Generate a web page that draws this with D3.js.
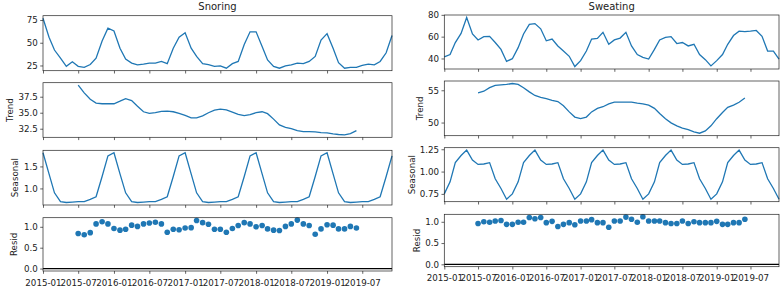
<!DOCTYPE html>
<html>
<head>
<meta charset="utf-8">
<script src="https://cdn.jsdelivr.net/npm/d3@7"></script>
<style>
  body { margin: 0; background: #fff; }
  svg { display: block; font-family: "DejaVu Sans", sans-serif; }
  .tick text { font-family: "DejaVu Sans", sans-serif; font-size: 8.7px; fill: #222; }
  .tick line { stroke: #222; stroke-width: 0.7; }
</style>
</head>
<body>
<div id="chart"></div>
<script>
/* two seasonal decompositions side by side (observed / trend / seasonal / resid) */

const width = 784,
    height = 291;

// monthly index, 2015-01 .. 2019-12
const months = d3.timeMonth.range(new Date(2015, 0, 1), new Date(2020, 0, 1));

const xTickLabels = ["2015-01", "2015-07", "2016-01", "2016-07", "2017-01",
    "2017-07", "2018-01", "2018-07", "2019-01", "2019-07"];

// --- snoring ---
const snoringObserved = [77, 56, 42, 33, 24, 29, 24, 23, 26, 33,
    52, 66, 63, 44, 32, 27.6, 25.7, 26.5, 27.6, 27.6,
    29.4, 27, 44, 56, 61, 44, 35, 27, 26, 24,
    24.6, 22, 27, 29.4, 48, 62, 62, 46, 31, 24,
    22, 24.6, 25.7, 27.6, 27, 29.4, 35, 53, 60, 44,
    28, 22, 23, 23, 25, 26.5, 25.7, 29.4, 39, 58];

const snoringTrend = [null, null, null, null, null, null,
    39.3, 38.1, 37.1, 36.5, 36.4, 36.4, 36.4, 36.8, 37.2, 36.9,
    36.0, 35.15, 34.9, 35.0, 35.2, 35.25, 35.15, 34.9, 34.6, 34.2,
    34.2, 34.5, 35.0, 35.4, 35.55, 35.45, 35.1, 34.75, 34.55, 34.7,
    35.0, 35.15, 34.85, 34.0, 33.1, 32.7, 32.5, 32.2, 32.05, 32.05,
    32.0, 31.9, 31.85, 31.7, 31.6, 31.55, 31.75, 32.2,
    null, null, null, null, null, null];

const snoringSeasonal = [
    1.81, 1.33, 0.90, 0.70, 0.68, 0.69, 0.70, 0.70, 0.75, 0.81, 1.27, 1.74,
    1.81, 1.33, 0.90, 0.70, 0.68, 0.69, 0.70, 0.70, 0.75, 0.81, 1.27, 1.74,
    1.81, 1.33, 0.90, 0.70, 0.68, 0.69, 0.70, 0.70, 0.75, 0.81, 1.27, 1.74,
    1.81, 1.33, 0.90, 0.70, 0.68, 0.69, 0.70, 0.70, 0.75, 0.81, 1.27, 1.74,
    1.81, 1.33, 0.90, 0.70, 0.68, 0.69, 0.70, 0.70, 0.75, 0.81, 1.27, 1.74];

const snoringResid = [null, null, null, null, null, null,
    0.84, 0.81, 0.86, 1.07, 1.12, 1.07, 0.96, 0.92, 0.94, 1.04,
    1.01, 1.07, 1.09, 1.11, 1.07, 0.87, 0.94, 0.93, 0.97, 0.98,
    1.15, 1.10, 1.06, 0.94, 0.94, 0.87, 0.96, 1.03, 1.10, 1.07,
    1.0, 1.03, 0.95, 0.92, 0.91, 1.01, 1.07, 1.16, 1.07, 1.03,
    0.82, 0.95, 1.05, 1.04, 0.95, 0.95, 1.01, 0.97,
    null, null, null, null, null, null];

// --- sweating ---
const sweatingObserved = [41.4, 43.6, 54.6, 63, 77.6, 62.5, 56.9, 60, 60.3, 54.6,
    48.3, 37.3, 39.8, 49.9, 62.5, 71.3, 72, 67.2, 56.2, 57.8,
    51.5, 46.8, 42, 32.6, 38, 46.8, 57.8, 58.4, 64, 53,
    57, 58.7, 64, 51.5, 43.6, 41.1, 39.5, 48.3, 57, 59.4,
    60, 53.7, 54.6, 51.5, 53, 43.6, 38.9, 33.2, 38, 43.6,
    53, 61, 65, 64.7, 65, 65.7, 60.3, 46.8, 46.8, 39.5];

const sweatingTrend = [null, null, null, null, null, null,
    54.6, 54.85, 55.4, 55.75, 55.85, 55.9, 56.05, 55.9, 55.4, 54.75,
    54.2, 53.9, 53.7, 53.45, 53.25, 52.6, 51.65, 50.85, 50.6, 50.85,
    51.65, 52.2, 52.45, 52.9, 53.15, 53.15, 53.15, 53.15, 53.0, 52.9,
    52.7, 52.2, 51.4, 50.6, 49.95, 49.5, 49.15, 48.9, 48.55, 48.35,
    48.7, 49.5, 50.6, 51.55, 52.35, 52.7, 53.15, 53.8,
    null, null, null, null, null, null];

const sweatingSeasonal = [
    0.75, 0.885, 1.10, 1.18, 1.24, 1.13, 1.08, 1.085, 1.10, 0.92, 0.81, 0.69,
    0.75, 0.885, 1.10, 1.18, 1.24, 1.13, 1.08, 1.085, 1.10, 0.92, 0.81, 0.69,
    0.75, 0.885, 1.10, 1.18, 1.24, 1.13, 1.08, 1.085, 1.10, 0.92, 0.81, 0.69,
    0.75, 0.885, 1.10, 1.18, 1.24, 1.13, 1.08, 1.085, 1.10, 0.92, 0.81, 0.69,
    0.75, 0.885, 1.10, 1.18, 1.24, 1.13, 1.08, 1.085, 1.10, 0.92, 0.81, 0.69];

const sweatingResid = [null, null, null, null, null, null,
    0.96, 1.0, 0.99, 1.02, 1.03, 0.94, 0.94, 0.99, 0.99, 1.1,
    1.07, 1.1, 0.98, 1.01, 0.89, 0.94, 0.98, 0.93, 1.02, 1.02,
    1.05, 0.98, 0.98, 0.87, 1.02, 1.02, 1.11, 1.06, 0.99, 1.12,
    1.02, 1.02, 1.02, 0.98, 0.96, 0.96, 1.02, 0.96, 1.0, 0.98,
    0.98, 0.98, 1.01, 0.94, 0.94, 0.98, 0.98, 1.06,
    null, null, null, null, null, null];

// y tick values for each panel
const snoringObsTicks = [25, 50, 75],
    snoringTrendTicks = [32.5, 35.0, 37.5],
    snoringSeasonalTicks = [1.0, 1.5],
    snoringResidTicks = [0.0, 0.5, 1.0];
const sweatingObsTicks = [40, 60, 80],
    sweatingTrendTicks = [50, 55],
    sweatingSeasonalTicks = [0.75, 1.00, 1.25],
    sweatingResidTicks = [0.0, 0.5, 1.0];

const blue = "#1f77b4";

// layout of both figures (they were pasted side by side, slightly different sizes)
const charts = [
  { title: "Snoring", x0: 43, x1: 392, titleY: 10, xLabelY: 286,
    panels: [
      { values: snoringObserved, ticks: snoringObsTicks, fmt: "d", top: 15.7, bottom: 70.7 },
      { values: snoringTrend, ticks: snoringTrendTicks, fmt: ".1f", top: 82.7, bottom: 137.3, label: "Trend", labelX: 12.6 },
      { values: snoringSeasonal, ticks: snoringSeasonalTicks, fmt: ".1f", top: 150.3, bottom: 205, label: "Seasonal", labelX: 18.2 },
      { values: snoringResid, ticks: snoringResidTicks, fmt: ".1f", top: 217.7, bottom: 271, label: "Resid", labelX: 17.3, resid: true }
    ] },
  { title: "Sweating", x0: 444.3, x1: 779, titleY: 9.5, xLabelY: 281,
    panels: [
      { values: sweatingObserved, ticks: sweatingObsTicks, fmt: "d", top: 15, bottom: 69 },
      { values: sweatingTrend, ticks: sweatingTrendTicks, fmt: "d", top: 81, bottom: 135.7, label: "Trend", labelX: 422.5 },
      { values: sweatingSeasonal, ticks: sweatingSeasonalTicks, fmt: ".2f", top: 147.7, bottom: 201.7, label: "Seasonal", labelX: 415 },
      { values: sweatingResid, ticks: sweatingResidTicks, fmt: ".1f", top: 214.3, bottom: 266.7, label: "Resid", labelX: 420, resid: true }
    ] }
];

const svg = d3.select("#chart")
    .append("svg")
    .attr("width", width)
    .attr("height", height)
    .attr("viewBox", [0, 0, width, height]);

const parseMonth = d3.timeParse("%Y-%m");
const xTicks = xTickLabels.map(parseMonth);

// matplotlib style 5% padding on the data range
function padded(ext) {
  const r = ext[1] - ext[0];
  return [ext[0] - 0.05 * r, ext[1] + 0.05 * r];
}

charts.forEach(chart => {
  const x = d3.scaleTime()
      .domain([months[0], months[months.length - 1]])
      .range([chart.x0, chart.x1]);

  svg.append("text")
      .attr("x", (chart.x0 + chart.x1) / 2)
      .attr("y", chart.titleY)
      .attr("text-anchor", "middle")
      .attr("font-size", "10px")
      .attr("fill", "#222")
      .text(chart.title);

  chart.panels.forEach((p, i) => {
    const pts = p.values.map((v, j) => ({ date: months[j], value: v }));
    let ext = d3.extent(p.values.filter(v => v != null));
    if (p.resid) ext = [Math.min(0, ext[0]), Math.max(0, ext[1])]; // zero line is part of the plot

    const y = d3.scaleLinear()
        .domain(padded(ext))
        .range([p.bottom, p.top]);

    const isLast = i === chart.panels.length - 1;

    // x axis ticks on every panel, labels only on the bottom one
    svg.append("g")
        .attr("transform", `translate(0,${p.bottom})`)
        .call(d3.axisBottom(x).tickValues(xTicks).tickSize(2.8).tickPadding(2.4)
            .tickFormat(isLast ? d3.timeFormat("%Y-%m") : () => ""))
        .call(g => g.attr("font-family", null).attr("font-size", null))
        .call(g => g.select(".domain").remove())
        .call(g => g.selectAll(".tick text").attr("y", null).attr("dy", null)
            .attr("transform", `translate(0,${chart.xLabelY - p.bottom})`));

    svg.append("g")
        .attr("transform", `translate(${chart.x0},0)`)
        .call(d3.axisLeft(y).tickValues(p.ticks).tickSize(2.8).tickPadding(2.4)
            .tickFormat(d3.format(p.fmt)))
        .call(g => g.attr("font-family", null).attr("font-size", null))
        .call(g => g.select(".domain").remove());

    if (p.label) {
      svg.append("text")
          .attr("transform", `translate(${p.labelX},${(p.top + p.bottom) / 2}) rotate(-90)`)
          .attr("text-anchor", "middle")
          .attr("font-size", "8.7px")
          .attr("fill", "#222")
          .text(p.label);
    }

    if (p.resid) {
      // black zero line behind the markers
      svg.append("line")
          .attr("x1", chart.x0).attr("x2", chart.x1)
          .attr("y1", y(0)).attr("y2", y(0))
          .attr("stroke", "#000")
          .attr("stroke-width", 1.2);

      svg.append("g")
        .selectAll("circle")
        .data(pts.filter(d => d.value != null))
        .join("circle")
          .attr("cx", d => x(d.date))
          .attr("cy", d => y(d.value))
          .attr("r", 2.8)
          .attr("fill", blue);
    } else {
      const line = d3.line()
          .defined(d => d.value != null)
          .x(d => x(d.date))
          .y(d => y(d.value));

      svg.append("path")
          .datum(pts)
          .attr("d", line)
          .attr("fill", "none")
          .attr("stroke", blue)
          .attr("stroke-width", 1.3);
    }

    // spines
    svg.append("rect")
        .attr("x", chart.x0)
        .attr("y", p.top)
        .attr("width", chart.x1 - chart.x0)
        .attr("height", p.bottom - p.top)
        .attr("fill", "none")
        .attr("stroke", "#222")
        .attr("stroke-width", 0.7);
  });
});
</script>
</body>
</html>
